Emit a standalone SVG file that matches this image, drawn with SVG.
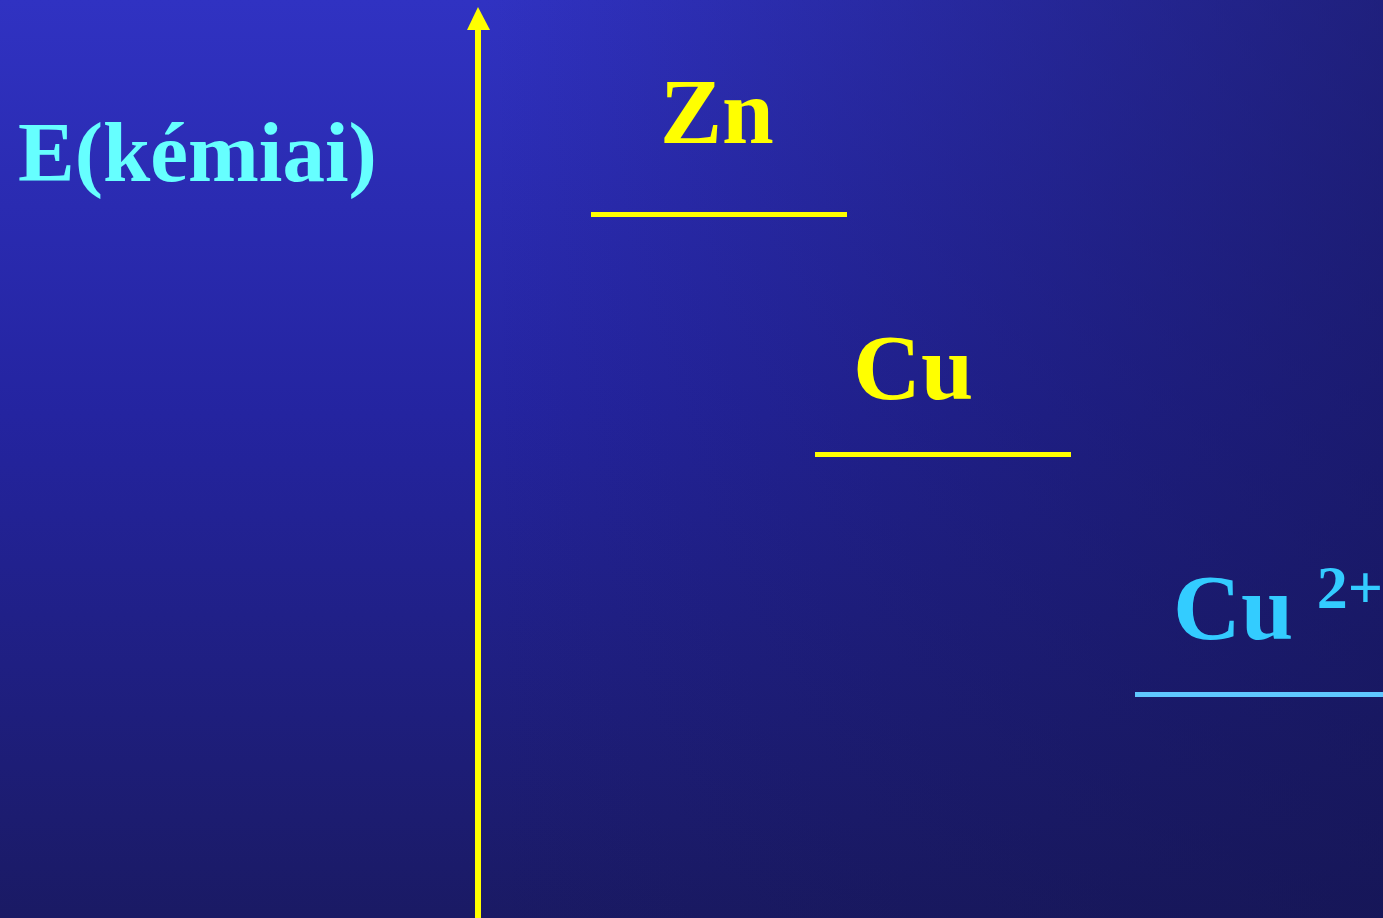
<svg xmlns="http://www.w3.org/2000/svg" width="1383" height="918" viewBox="0 0 1383 918">
<defs>
<linearGradient id="bgv" x1="0" y1="0" x2="0" y2="1">
<stop offset="0" stop-color="#3032c2"/>
<stop offset="0.45" stop-color="#2424a0"/>
<stop offset="1" stop-color="#1a1a64"/>
</linearGradient>
<linearGradient id="bgh" x1="0" y1="0" x2="1" y2="0">
<stop offset="0.35" stop-color="#141450" stop-opacity="0"/>
<stop offset="1" stop-color="#141450" stop-opacity="0.6"/>
</linearGradient>
<style>
.lbl{font-family:"Liberation Serif","Times New Roman",serif;font-weight:bold}
.y{fill:#ffff00}
</style>
</defs>
<rect width="1383" height="918" fill="url(#bgv)"/>
<rect width="1383" height="918" fill="url(#bgh)"/>
<g id="connectors">
<rect x="475" y="28" width="6" height="890" fill="#ffff00"/>
<polygon points="478,7 467,30 490,30" fill="#ffff00"/>
</g>
<g id="axis-label">
<text class="lbl" x="18" y="181" font-size="85" fill="#66ffff">E(kémiai)</text>
</g>
<g id="zn">
<text class="lbl y" x="660" y="143" font-size="93">Zn</text>
<rect x="591" y="212" width="256" height="5" fill="#ffff00"/>
</g>
<g id="cu">
<text class="lbl y" x="853" y="399" font-size="94">Cu</text>
<rect x="815" y="452" width="256" height="5" fill="#ffff00"/>
</g>
<g id="cu2">
<text class="lbl" x="1173" y="639" font-size="94" fill="#33ccff">Cu <tspan font-size="62" dy="-31">2+</tspan></text>
<rect x="1135" y="692" width="248" height="5" fill="#5fc8ff"/>
</g>
</svg>
